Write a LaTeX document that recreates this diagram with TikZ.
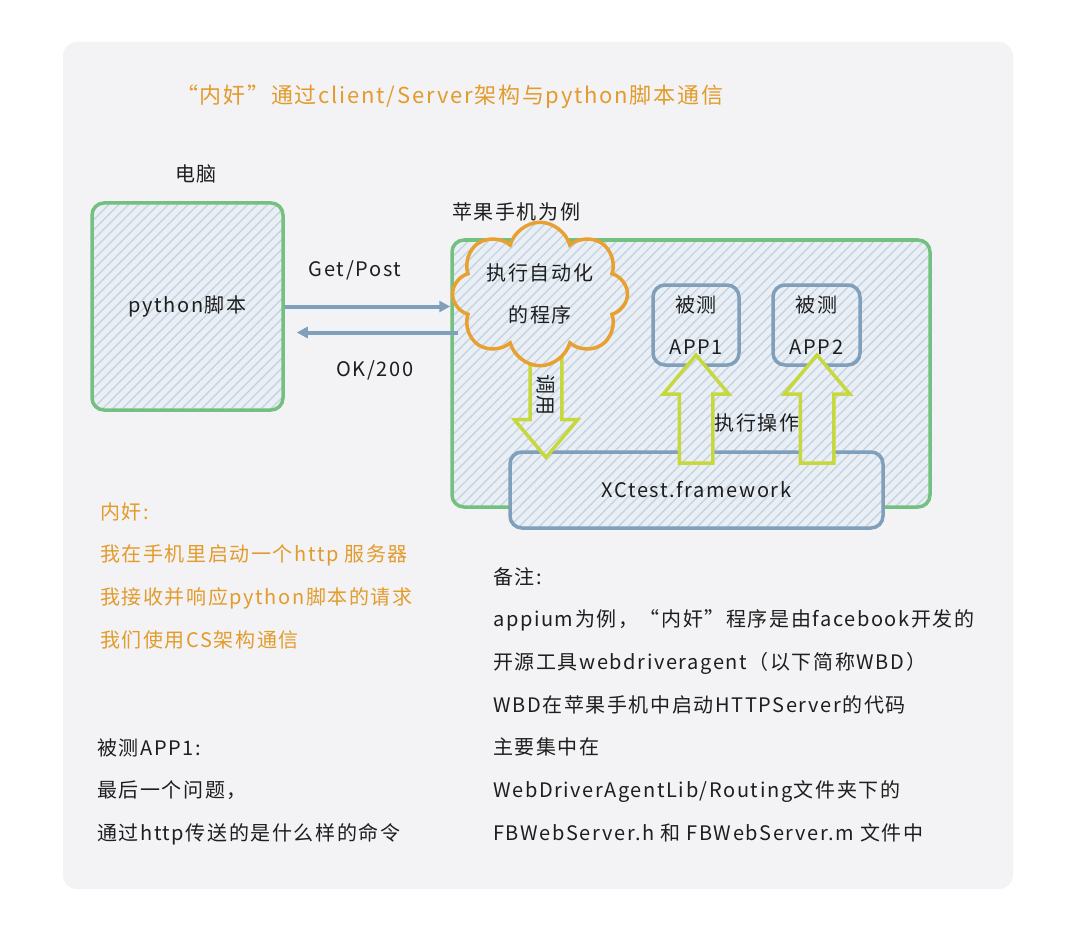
\documentclass[tikz,border=0pt]{standalone}
\usepackage{fontspec}
\setmainfont{Noto Sans CJK SC}[LetterSpace=8]
\usetikzlibrary{arrows.meta,positioning,shapes.symbols,shapes.arrows,patterns.meta}
\definecolor{panel}{HTML}{F3F3F5}
\definecolor{ink}{HTML}{1E1E1E}
\definecolor{orangeink}{HTML}{E39B2B}
\definecolor{boxgreen}{HTML}{74C080}
\definecolor{boxblue}{HTML}{7F9FBA}
\definecolor{linkblue}{HTML}{7F9FBA}
\definecolor{cloudorg}{HTML}{E8A030}
\definecolor{fatgreen}{HTML}{C6D83E}
\definecolor{hatchbg}{HTML}{E9EFF5}
\definecolor{hatchln}{HTML}{C6D4E1}

\begin{document}
\begin{tikzpicture}[x=1pt,y=-1pt,
 every node/.style={font=\fontsize{20}{42.7}\selectfont,text=ink,align=left,inner sep=0pt},
 hatched/.style={preaction={fill=hatchbg},preaction={pattern={Lines[angle=45,distance=7pt,line width=1.4pt]},pattern color=hatchln}},
 greenbox/.style={draw=boxgreen,line width=3.5pt,rounded corners=12pt,hatched,align=center},
 bluebox/.style={draw=boxblue,line width=3.5pt,rounded corners=12pt,hatched,align=center},
 fat/.style={single arrow,draw=fatgreen,line width=3.5pt,hatched,single arrow head extend=16pt,
   single arrow head indent=0pt,single arrow tip angle=80},
 arr/.style={-{Triangle[length=11pt,width=11pt]},draw=linkblue,line width=4pt},
 note/.style={anchor=north west}]
 \fill[white] (0,0) rectangle (1080,947);
 \fill[panel,rounded corners=14pt] (63,42) rectangle (1013,889);
 % title and captions
 \node[anchor=west,text=orangeink,font=\fontsize{22}{28}\selectfont] (title) at (176,97)
   {“内奸”通过client/Server架构与python脚本通信};
 \node[anchor=west] (pclab) at (175,174) {电脑};
 \node[anchor=west] (phlab) at (452,212) {苹果手机为例};
 % computer side
 \node[greenbox,minimum width=191,minimum height=207] (py) at (187.5,306.5) {python脚本};
 % phone side
 \node[greenbox,minimum width=478,minimum height=267] (phone) at (691,373.5) {};
 \node[bluebox,minimum width=373,minimum height=76] (xc) at (696.5,490) {XCtest.framework};
 \node[bluebox,minimum width=86,minimum height=80] (app1) at (696,325) {被测\\APP1};
 \node[bluebox,minimum width=87,minimum height=80] (app2) at (816.5,325) {被测\\APP2};
 \node[fat,rotate=-90,minimum height=106,minimum width=60,inner sep=5pt] (call) at (546,395) {调用};
 \node[cloud,cloud puffs=8,aspect=1.4,draw=cloudorg,line width=3.5pt,hatched,align=center,
   minimum width=175,minimum height=122] (prog) at (540,294) {执行自动化\\的程序};
 \node[fat,rotate=90,minimum height=108,minimum width=60,inner sep=15pt] (op1) at (696,419) {};
 \node[fat,rotate=90,minimum height=108,minimum width=60,inner sep=15pt] (op2) at (817,419) {};
 \node (oplab) at (757,423) {执行操作};
 % requests
 \coordinate (req) at ([yshift=-26pt]py.east);
 \draw[arr] (py.east) -- (py.east -| phone.west);
 \draw[arr] ([xshift=8pt]req -| phone.west) -- ([xshift=12pt]req);
 \node (getlab) at (355,270) {Get/Post};
 \node (oklab) at (375,370) {OK/200};
 % notes
 \node[note,text=orangeink] (spy) at (100,502)
   {内奸:\\我在手机里启动一个http 服务器\\我接收并响应python脚本的请求\\我们使用CS架构通信};
 \node[note] (app) at (97,738) {被测APP1:\\最后一个问题，\\通过http传送的是什么样的命令};
 \node[note] (memo) at (493,567) {备注:\\appium为例，“内奸”程序是由facebook开发的\\开源工具webdriveragent（以下简称WBD）\\WBD在苹果手机中启动HTTPServer的代码\\主要集中在\\WebDriverAgentLib/Routing文件夹下的\\FBWebServer.h 和 FBWebServer.m 文件中};
\end{tikzpicture}
\end{document}
